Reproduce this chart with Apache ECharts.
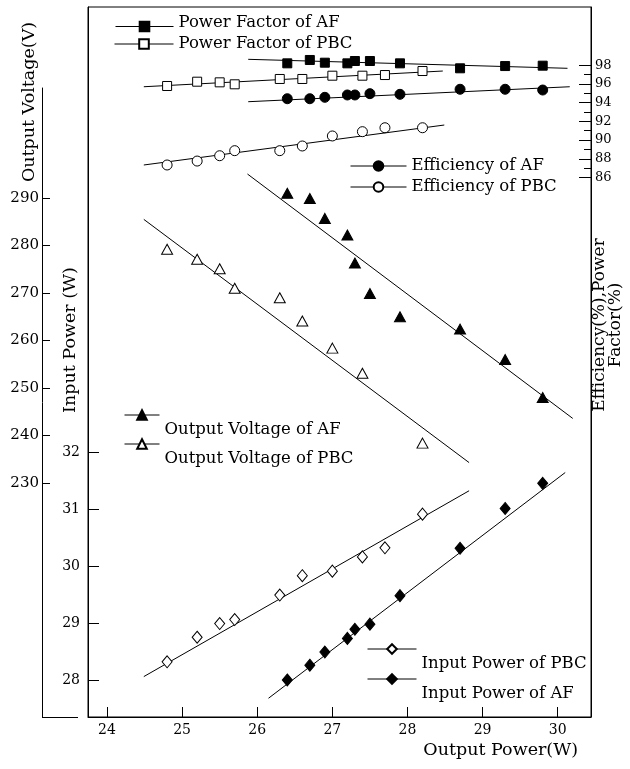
<!DOCTYPE html>
<html><head><meta charset="utf-8">
<script src="https://cdn.jsdelivr.net/npm/echarts@6/dist/echarts.min.js"></script>
<style>html,body{margin:0;padding:0;background:#fff}#c{width:630px;height:769px}</style>
</head><body><div id="c"></div>
<script>
// ---- data ----
const xAF  = [26.4, 26.7, 26.9, 27.2, 27.3, 27.5, 27.9, 28.7, 29.3, 29.8];
const xPBC = [24.8, 25.2, 25.5, 25.7, 26.3, 26.6, 27.0, 27.4, 27.7, 28.2];

const pfAF   = [98.20, 98.56, 98.27, 98.20, 98.45, 98.45, 98.20, 97.67, 97.91, 97.95];
const pfPBC  = [95.78, 96.24, 96.17, 95.96, 96.53, 96.53, 96.88, 96.88, 96.95, 97.38];
const effAF  = [94.42, 94.42, 94.57, 94.82, 94.82, 94.96, 94.89, 95.43, 95.43, 95.35];
const effPBC = [87.34, 87.76, 88.33, 88.87, 88.87, 89.37, 90.44, 90.90, 91.32, 91.32];
const ovAF   = [291.0, 289.9, 285.7, 282.2, 276.3, 269.9, 265.0, 262.4, 256.0, 248.0];
const ovPBC  = [279.2, 277.1, 275.1, 271.0, 269.0, 264.1, 258.4, 253.1, null, 238.4];
const ipPBC  = [28.32, 28.75, 28.99, 29.06, 29.49, 29.83, 29.91, 30.16, 30.32, 30.91];
const ipAF   = [28.00, 28.26, 28.49, 28.73, 28.89, 28.98, 29.48, 30.31, 31.01, 31.45];

// fitted trend lines (end points)
const fitPfAF   = [[25.88, 98.63], [30.13, 97.67]];
const fitPfPBC  = [[24.49, 95.70], [28.47, 97.38]];
const fitEffAF  = [[25.88, 94.10], [30.16, 95.70]];
const fitEffPBC = [[24.49, 87.34], [28.49, 91.61]];
const fitOvAF   = [[25.87, 295.05], [30.20, 243.6]];
const fitOvPBC  = [[24.49, 285.5], [28.82, 234.3]];
const fitIpPBC  = [[24.49, 28.06], [28.82, 31.32]];
const fitIpAF   = [[26.15, 27.68], [30.10, 31.64]];

// tick labels
const xTicks   = [24, 25, 26, 27, 28, 29, 30];
const ipTicks  = [28, 29, 30, 31, 32];
const ovTicks  = [230, 240, 250, 260, 270, 280, 290];
const effTicks = [86, 88, 90, 92, 94, 96, 98];
const effMinor = [87, 89, 91, 93, 95, 97];

// ---- chart ----
const FONT = 'DejaVu Serif';
const BLACK = '#000';
const pairs = (xs, ys) => xs.map((x, i) => [x, ys[i]]).filter(p => p[1] != null);

function markers(name, xs, ys, symbol, size, hollow, xi, yi) {
  return {
    type: 'line', name, xAxisIndex: xi, yAxisIndex: yi,
    data: pairs(xs, ys), symbol, symbolSize: size, showSymbol: true, showAllSymbol: true,
    lineStyle: { opacity: 0 },
    itemStyle: { color: hollow ? '#fff' : BLACK, borderColor: BLACK, borderWidth: 1, opacity: 1 },
    z: 5, silent: true
  };
}
function fit(data, xi, yi) {
  return {
    type: 'line', name: '_fit', xAxisIndex: xi, yAxisIndex: yi, data,
    symbol: 'none', lineStyle: { color: BLACK, width: 1 }, z: 3, silent: true
  };
}
// keyY = wanted centre of the key line; shift: 'down' puts the label under the key line, 'up' lifts it slightly
function lg(name, left, keyY, iw, shift) {
  let fmt = n => n, lh = 18, above = 3;
  if (shift === 'down') { fmt = n => '\n' + n; lh = 30; above = 24; }
  if (shift === 'up') { fmt = n => n + '\n'; lh = 8; above = 2; }
  return {
    data: [name], left, top: keyY - 6 - above, itemWidth: iw, itemHeight: 12, padding: 0, selectedMode: false,
    formatter: fmt,
    lineStyle: { width: 1, color: BLACK, opacity: 1, type: 'solid' },
    textStyle: { fontFamily: FONT, fontSize: 16.5, color: BLACK, lineHeight: lh }
  };
}

const names = {
  pfAF: 'Power Factor of AF', pfPBC: 'Power Factor of PBC',
  effAF: 'Efficiency of AF', effPBC: 'Efficiency of PBC',
  ovAF: 'Output Voltage of AF', ovPBC: 'Output Voltage of PBC',
  ipPBC: 'Input Power of PBC', ipAF: 'Input Power of AF'
};

const chart = echarts.init(document.getElementById('c'), null, { renderer: 'canvas' });
const axisCommon = {
  type: 'value', splitLine: { show: false }, nameMoveOverlap: false,
  axisLine: { show: true, lineStyle: { color: BLACK, width: 1 } }
};
const XMIN = 23.747, XMAX = 30.443;

chart.setOption({
  animation: false,
  backgroundColor: '#fff',
  grid: [
    { left: 88, right: 39, top: 7, bottom: 52, show: true, borderColor: BLACK, borderWidth: 1, backgroundColor: 'transparent', outerBoundsMode: 'none', containLabel: false },
    { left: 88, right: 39, top: 88, bottom: 52, show: false, outerBoundsMode: 'none', containLabel: false }
  ],
  xAxis: [
    Object.assign({}, axisCommon, {
      gridIndex: 0, min: XMIN, max: XMAX,
      axisTick: { show: true, inside: true, length: 10, customValues: xTicks, lineStyle: { color: BLACK } },
      axisLabel: { customValues: xTicks, fontFamily: FONT, fontSize: 14, color: BLACK, margin: 6 },
      name: 'Output Power(W)', nameLocation: 'end', nameGap: -13,
      nameTextStyle: { fontFamily: FONT, fontSize: 17.5, color: BLACK, align: 'right', verticalAlign: 'top', padding: [24, 0, 0, 0] }
    }),
    { type: 'value', gridIndex: 1, min: XMIN, max: XMAX, show: false }
  ],
  yAxis: [
    Object.assign({}, axisCommon, {
      gridIndex: 0, position: 'left', min: 27.351, max: 39.807,
      axisTick: { show: true, inside: true, length: 11, customValues: ipTicks, lineStyle: { color: BLACK } },
      axisLabel: { customValues: ipTicks, fontFamily: FONT, fontSize: 14, color: BLACK, margin: 8 },
      name: 'Input Power (W)', nameLocation: 'middle', nameRotate: 90, nameGap: 9,
      nameTextStyle: { fontFamily: FONT, fontSize: 17.5, color: BLACK, padding: [0, 0, 0, 44] }
    }),
    Object.assign({}, axisCommon, {
      gridIndex: 0, position: 'right', min: 28.36, max: 104.22,
      axisTick: { show: true, inside: true, length: 12, customValues: effTicks, lineStyle: { color: BLACK } },
      axisLabel: { customValues: effTicks, fontFamily: FONT, fontSize: 13, color: BLACK, margin: 4 },
      name: 'Efficiency(%),Power\nFactor(%)', nameLocation: 'middle', nameRotate: 90, nameGap: 1,
      nameTextStyle: { fontFamily: FONT, fontSize: 17, color: BLACK, align: 'center', lineHeight: 16, padding: [0, 0, 0, 74] }
    }),
    Object.assign({}, axisCommon, {
      gridIndex: 0, position: 'right', min: 28.36, max: 104.22,
      axisLine: { show: false },
      axisTick: { show: true, inside: true, length: 7, customValues: effMinor, lineStyle: { color: BLACK } },
      axisLabel: { show: false }
    }),
    Object.assign({}, axisCommon, {
      gridIndex: 1, position: 'left', offset: 46, min: 180.74, max: 313.16,
      axisTick: { show: true, inside: true, length: 8, customValues: ovTicks, lineStyle: { color: BLACK } },
      axisLabel: { customValues: ovTicks, fontFamily: FONT, fontSize: 15, color: BLACK, margin: 3 },
      name: 'Output Voltage(V)', nameLocation: 'middle', nameRotate: 90, nameGap: 4,
      nameTextStyle: { fontFamily: FONT, fontSize: 17.5, color: BLACK, padding: [0, 0, 0, 601] }
    })
  ],
  legend: [
    lg(names.pfAF, 115, 22, 58, 'up'),
    lg(names.pfPBC, 114, 44, 59, null),
    lg(names.effAF, 350, 166, 56, null),
    lg(names.effPBC, 350, 187, 56, null),
    lg(names.ovAF, 124, 415, 35, 'down'),
    lg(names.ovPBC, 124, 444, 35, 'down'),
    lg(names.ipPBC, 367, 649, 49, 'down'),
    lg(names.ipAF, 367, 679, 49, 'down')
  ],
  graphic: [
    { type: 'line', shape: { x1: 42, y1: 717.5, x2: 78, y2: 717.5 }, style: { stroke: BLACK, lineWidth: 1 }, silent: true }
  ],
  series: [
    fit(fitPfAF, 0, 1), fit(fitPfPBC, 0, 1), fit(fitEffAF, 0, 1), fit(fitEffPBC, 0, 1),
    fit(fitOvAF, 1, 3), fit(fitOvPBC, 1, 3), fit(fitIpPBC, 0, 0), fit(fitIpAF, 0, 0),
    markers(names.pfAF, xAF, pfAF, 'rect', 9, false, 0, 1),
    markers(names.pfPBC, xPBC, pfPBC, 'rect', 9, true, 0, 1),
    markers(names.effAF, xAF, effAF, 'circle', 10, false, 0, 1),
    markers(names.effPBC, xPBC, effPBC, 'circle', 10, true, 0, 1),
    markers(names.ovAF, xAF, ovAF, 'triangle', [11, 10], false, 1, 3),
    markers(names.ovPBC, xPBC, ovPBC, 'triangle', [11, 10], true, 1, 3),
    markers(names.ipPBC, xPBC, ipPBC, 'diamond', [10, 12], true, 0, 0),
    markers(names.ipAF, xAF, ipAF, 'diamond', [10, 12], false, 0, 0)
  ]
});
</script>
</body></html>
